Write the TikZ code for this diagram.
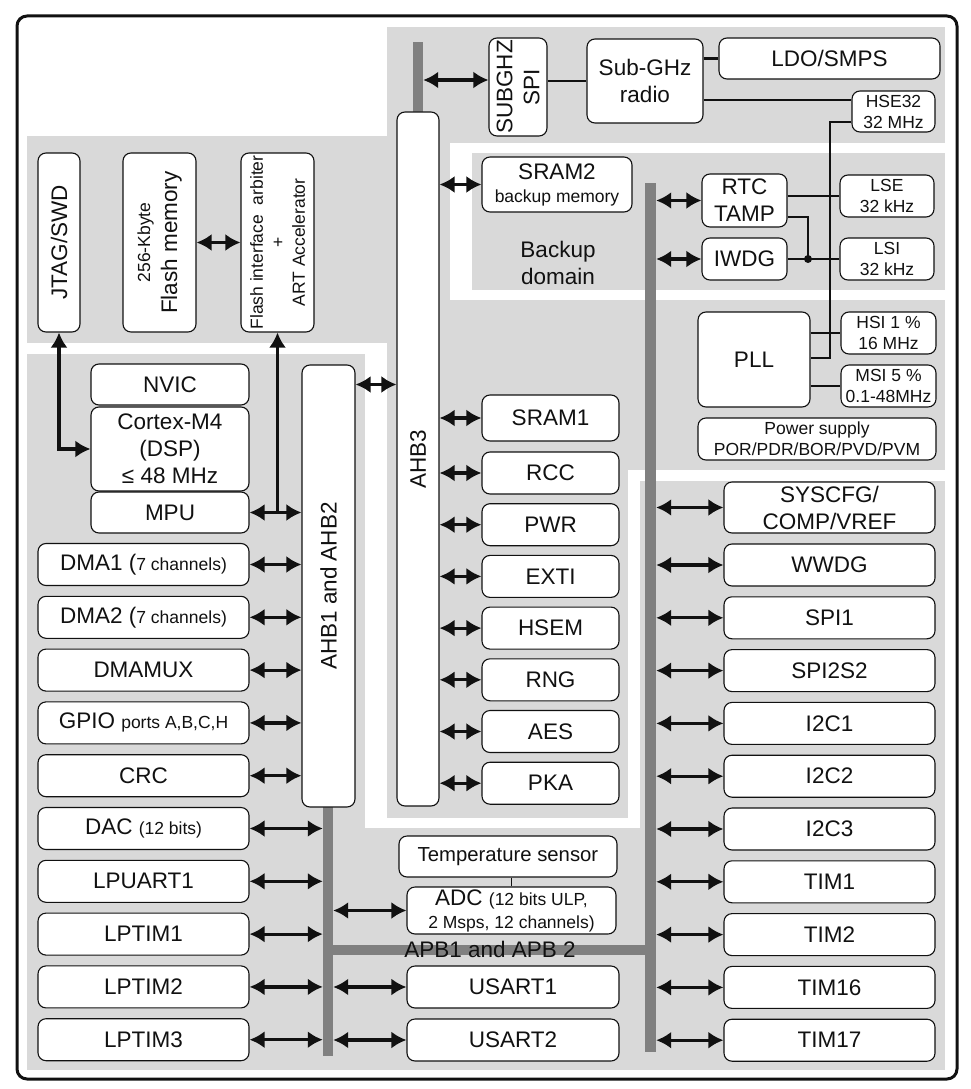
\documentclass[tikz,border=0pt]{standalone}
\usepackage{fontspec}
\setmainfont{Liberation Sans}
\usepackage{tikz}
\usetikzlibrary{arrows.meta,positioning,calc}
\definecolor{Ink}{HTML}{111111}
\definecolor{Panel}{HTML}{D9D9D9}
\definecolor{Bus}{HTML}{808080}
\newcommand{\bigf}{\fontsize{22.5}{27}\selectfont}
\newcommand{\midf}{\fontsize{20.3}{24}\selectfont}
\newcommand{\smf}{\fontsize{17.5}{21}\selectfont}
\tikzset{
  >=Latex,
  blk/.style={rectangle,rounded corners=8pt,draw=Ink,line width=1.1pt,fill=white,inner sep=0pt,align=center,font=\bigf,text=Ink},
  lper/.style={blk,minimum width=211pt,minimum height=42pt},
  rper/.style={lper},
  aper/.style={blk,minimum width=137pt,minimum height=42pt},
  osc/.style={blk,minimum width=94pt,minimum height=42pt,font=\smf},
  tall/.style={blk,minimum width=73pt,minimum height=179pt},
  core/.style={blk,minimum width=158pt,minimum height=41pt},
  bus/.style={rectangle,fill=Bus,draw=none,inner sep=0pt},
  vlab/.style={rotate=90,font=\bigf,align=center,text=Ink,inner sep=0pt},
  lab/.style={font=\bigf,align=center,text=Ink,inner sep=0pt},
  arr/.style={{Latex[length=15pt,width=17pt]}-{Latex[length=15pt,width=17pt]},line width=3.2pt,draw=Ink},
  uarr/.style={-{Latex[length=15pt,width=17pt]},line width=3.2pt,draw=Ink},
  wire/.style={line width=2.5pt,draw=Ink},
  clk/.style={line width=1.2pt,draw=Ink},
  panel/.style={fill=Panel,draw=none},
  gap/.style={fill=white,draw=none}
}
\begin{document}
\begin{tikzpicture}[x=1pt,y=-1pt]
        \useasboundingbox (0,0) rectangle (970,1089);
        \fill[white] (0,0) rectangle (970,1089);
        \fill[panel] (27,27) rectangle (945,1070);
        \fill[gap] (27,27) rectangle (387,136);
        \fill[gap] (27,343) rectangle (387,354);
        \fill[gap] (365,343) rectangle (387,828);
        \fill[gap] (365,818) rectangle (640,828);
        \fill[gap] (628,470) rectangle (640,828);
        \fill[gap] (628,470) rectangle (945,481);
        \fill[gap] (450,143) rectangle (945,300);
        \fill[panel] (472,153) rectangle (945,290);
        \draw[line width=3pt,rounded corners=10pt,draw=Ink] (17,16) rectangle (957,1079);

        \node[bus,minimum width=10pt,minimum height=70pt] (ahbbus) at (418,77) {};
        \node[bus,minimum width=11pt,minimum height=869pt] (rbus) at (650.5,617.5) {};
        \node[bus,minimum width=10pt,minimum height=249pt] (lbus) at (328,931.5) {};
        \node[bus,minimum width=312pt,minimum height=10pt] (hbus) at (489,950) {};

        \node[blk,minimum width=58pt,minimum height=98pt] (spi) at (518,87) {};
        \node[vlab] (spilab) at (spi) {SUBGHZ\\SPI};
        \node[blk,minimum width=116pt,minimum height=84pt] (radio) at (645,81) {Sub-GHz\\radio};
        \node[blk,minimum width=221pt,minimum height=41pt] (ldo) at (829.5,58.5) {LDO/SMPS};
        \node[osc,minimum width=83pt,minimum height=41pt] (hse) at (893.5,111.5) {HSE32\\32 MHz};
        \node[blk,minimum width=42pt,minimum height=694pt] (ahbthree) at (418,459) {};
        \node[vlab] (ahbthreelab) at (ahbthree) {AHB3};
        \coordinate (spiport) at ([yshift=7pt]spi.west);

        \node[blk,minimum width=150pt,minimum height=55pt] (sramtwo) at (557,184.5) {SRAM2\\[-4pt]{\smf backup memory}};
        \node[lab] (backup) at (558,263) {Backup\\domain};
        \node[blk,minimum width=85pt,minimum height=53pt] (rtc) at (744.5,200.5) {RTC\\TAMP};
        \node[blk,minimum width=85pt,minimum height=42pt] (iwdg) at (744.5,259) {IWDG};
        \node[osc] (lse) at (887,196) {LSE\\32 kHz};
        \node[osc] (lsi) at (887,259) {LSI\\32 kHz};
        \coordinate (dot) at (808,259);
        \node[blk,minimum width=112pt,minimum height=95pt] (pll) at (754,359.5) {PLL};
        \node[osc,minimum width=95pt] (hsi) at (888.5,333) {HSI 1 \%\\16 MHz};
        \node[osc,minimum width=95pt] (msi) at (888.5,386) {MSI 5 \%\\0.1-48MHz};
        \node[blk,minimum width=238pt,minimum height=42pt,font=\smf] (supply) at (817,439) {Power supply\\POR/PDR/BOR/PVD/PVM};

        \node[aper,minimum height=46pt] (sramone) at (550.5,418) {SRAM1};
        \node[aper] (rcc) at (550.5,473) {RCC};
        \node[aper] (pwr) at (550.5,524.7) {PWR};
        \node[aper] (exti) at (550.5,576.4) {EXTI};
        \node[aper] (hsem) at (550.5,628.1) {HSEM};
        \node[aper] (rng) at (550.5,679.8) {RNG};
        \node[aper] (aes) at (550.5,731.5) {AES};
        \node[aper] (pka) at (550.5,783.2) {PKA};

        \node[rper,minimum height=51pt] (syscfg) at (829.5,507.5) {SYSCFG/\\COMP/VREF};
        \node[rper] (wwdg) at (829.5,565) {WWDG};
        \node[rper] (spione) at (829.5,617.8) {SPI1};
        \node[rper] (spitwo) at (829.5,670.6) {SPI2S2};
        \node[rper] (i2cone) at (829.5,723.4) {I2C1};
        \node[rper] (i2ctwo) at (829.5,776.2) {I2C2};
        \node[rper] (i2cthree) at (829.5,829) {I2C3};
        \node[rper] (timone) at (829.5,881.8) {TIM1};
        \node[rper] (timtwo) at (829.5,934.6) {TIM2};
        \node[rper] (timsixteen) at (829.5,987.4) {TIM16};
        \node[rper] (timseventeen) at (829.5,1040.2) {TIM17};

        \node[blk,minimum width=42pt,minimum height=179pt] (jtag) at (59,242.5) {};
        \node[vlab] (jtaglab) at (jtag) {JTAG/SWD};
        \node[tall] (flash) at (159.5,242.5) {};
        \node[vlab] (flashlab) at (flash) {{\smf 256-Kbyte}\\Flash memory};
        \node[tall] (fia) at (277.5,242.5) {};
        \node[vlab,font=\smf] (fialab) at (fia) {Flash interface\ \ arbiter\\+\\ART Accelerator};
        \node[core] (nvic) at (170,384.5) {NVIC};
        \node[core,minimum height=84pt] (cortex) at (170,449) {Cortex-M4\\(DSP)\\≤ 48 MHz};
        \node[core] (mpu) at (170,512.5) {MPU};
        \node[blk,minimum width=53pt,minimum height=442pt] (ahbone) at (328.5,586) {};
        \node[vlab] (ahbonelab) at (ahbone) {AHB1 and AHB2};

        \node[lper] (dmaone) at (143.5,564.5) {DMA1 ({\smf 7 channels)}};
        \node[lper] (dmatwo) at (143.5,617.3) {DMA2 ({\smf 7 channels)}};
        \node[lper] (dmamux) at (143.5,670.1) {DMAMUX};
        \node[lper] (gpio) at (143.5,722.9) {GPIO {\smf ports A,B,C,H}};
        \node[lper] (crc) at (143.5,775.7) {CRC};
        \node[lper] (dac) at (143.5,828.5) {DAC {\smf (12 bits)}};
        \node[lper] (lpuart) at (143.5,881.3) {LPUART1};
        \node[lper] (lptimone) at (143.5,934.1) {LPTIM1};
        \node[lper] (lptimtwo) at (143.5,986.9) {LPTIM2};
        \node[lper] (lptimthree) at (143.5,1039.7) {LPTIM3};

        \node[blk,minimum width=218pt,minimum height=41pt,font=\midf] (temp) at (508,856.5) {Temperature sensor};
        \node[blk,minimum width=209pt,minimum height=47pt] (adc) at (511.5,910.5) {ADC {\smf (12 bits ULP,}\\[-4pt]{\smf 2 Msps, 12 channels)}};
        \node[lper,minimum width=212pt] (usartone) at (513,987) {USART1};
        \node[lper,minimum width=212pt] (usarttwo) at (513,1040) {USART2};
        \node[lab] (apb) at (490,949) {APB1 and APB 2};

        \draw[wire] (spi.east |- radio.west) -- (radio.west);
        \draw[wire] (radio.east |- ldo.west) -- (ldo.west);
        \draw[clk] (radio.east |- 0,100) -- (hse.west |- 0,100);
        \draw[clk] (hse.west |- 0,122) -| (830,358) -- (pll.east |- 0,358);
        \draw[clk] (rtc.east |- lse.west) -- (lse.west);
        \draw[clk] (rtc.east |- 0,217) -| (dot);
        \draw[clk] (iwdg.east) -- (lsi.west);
        \fill[Ink] (dot) circle (4pt);
        \draw[clk] (pll.east |- hsi.west) -- (hsi.west);
        \draw[clk] (pll.east |- msi.west) -- (msi.west);
        \draw[clk] (adc.north |- temp.south) -- (adc.north);

        \draw[arr] (spiport -| ahbbus.east) -- (spiport);
        \draw[arr] (sramtwo.west -| ahbthree.east) -- (sramtwo.west);
        \draw[arr] (sramone.west -| ahbthree.east) -- (sramone.west);
        \draw[arr] (rcc.west -| ahbthree.east) -- (rcc.west);
        \draw[arr] (pwr.west -| ahbthree.east) -- (pwr.west);
        \draw[arr] (exti.west -| ahbthree.east) -- (exti.west);
        \draw[arr] (hsem.west -| ahbthree.east) -- (hsem.west);
        \draw[arr] (rng.west -| ahbthree.east) -- (rng.west);
        \draw[arr] (aes.west -| ahbthree.east) -- (aes.west);
        \draw[arr] (pka.west -| ahbthree.east) -- (pka.west);

        \draw[arr] (rtc.west -| rbus.east) -- (rtc.west);
        \draw[arr] (iwdg.west -| rbus.east) -- (iwdg.west);
        \draw[arr] (syscfg.west -| rbus.east) -- (syscfg.west);
        \draw[arr] (wwdg.west -| rbus.east) -- (wwdg.west);
        \draw[arr] (spione.west -| rbus.east) -- (spione.west);
        \draw[arr] (spitwo.west -| rbus.east) -- (spitwo.west);
        \draw[arr] (i2cone.west -| rbus.east) -- (i2cone.west);
        \draw[arr] (i2ctwo.west -| rbus.east) -- (i2ctwo.west);
        \draw[arr] (i2cthree.west -| rbus.east) -- (i2cthree.west);
        \draw[arr] (timone.west -| rbus.east) -- (timone.west);
        \draw[arr] (timtwo.west -| rbus.east) -- (timtwo.west);
        \draw[arr] (timsixteen.west -| rbus.east) -- (timsixteen.west);
        \draw[arr] (timseventeen.west -| rbus.east) -- (timseventeen.west);

        \draw[arr] (flash.east) -- (fia.west);
        \draw[arr] (jtag.south) |- (cortex.west);
        \draw[uarr] (fia.south |- mpu.east) -- (fia.south);
        \draw[arr] (mpu.east) -- (mpu.east -| ahbone.west);
        \draw[arr] (ahbone.east |- nvic.east) -- (ahbthree.west |- nvic.east);
        \draw[arr] (dmaone.east) -- (dmaone.east -| ahbone.west);
        \draw[arr] (dmatwo.east) -- (dmatwo.east -| ahbone.west);
        \draw[arr] (dmamux.east) -- (dmamux.east -| ahbone.west);
        \draw[arr] (gpio.east) -- (gpio.east -| ahbone.west);
        \draw[arr] (crc.east) -- (crc.east -| ahbone.west);
        \draw[arr] (dac.east) -- (dac.east -| lbus.west);
        \draw[arr] (lpuart.east) -- (lpuart.east -| lbus.west);
        \draw[arr] (lptimone.east) -- (lptimone.east -| lbus.west);
        \draw[arr] (lptimtwo.east) -- (lptimtwo.east -| lbus.west);
        \draw[arr] (lptimthree.east) -- (lptimthree.east -| lbus.west);
        \draw[arr] (adc.west -| lbus.east) -- (adc.west);
        \draw[arr] (usartone.west -| lbus.east) -- (usartone.west);
        \draw[arr] (usarttwo.west -| lbus.east) -- (usarttwo.west);
      \end{tikzpicture}
\end{document}
